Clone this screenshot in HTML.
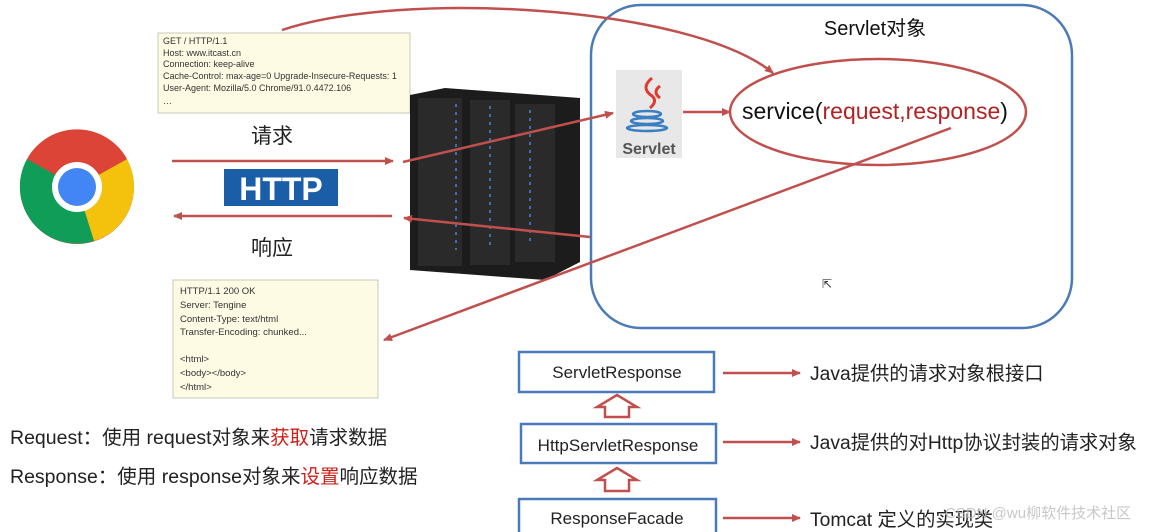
<!DOCTYPE html>
<html><head><meta charset="utf-8"><style>
html,body{margin:0;padding:0;background:#fff;width:1159px;height:532px;overflow:hidden}
svg{display:block}
text{font-family:"Liberation Sans","Noto Sans CJK SC",sans-serif}
</style></head><body>
<svg width="1159" height="532" viewBox="0 0 1159 532" xmlns="http://www.w3.org/2000/svg">
<defs>
<marker id="ah" markerWidth="10" markerHeight="10" refX="8" refY="5" orient="auto" markerUnits="userSpaceOnUse">
<path d="M0,1 L9,5 L0,9 z" fill="#c0504d"/></marker>
</defs>
<rect x="158" y="33" width="252" height="80" fill="#fdfbe3" stroke="#c8c8b8"/>
<g font-size="9" fill="#333">
<text x="163" y="44">GET / HTTP/1.1</text>
<text x="163" y="56">Host: www.itcast.cn</text>
<text x="163" y="67">Connection: keep-alive</text>
<text x="163" y="79">Cache-Control: max-age=0 Upgrade-Insecure-Requests: 1</text>
<text x="163" y="91">User-Agent: Mozilla/5.0 Chrome/91.0.4472.106</text>
<text x="163" y="104">…</text>
</g>
<circle cx="77" cy="187" r="57" fill="#db4437"/>
<path d="M77,187 L127,159 A57,57 0 0 1 94,241 z" fill="#f4c20d"/>
<path d="M77,187 L94,241 A57,57 0 0 1 27,159 z" fill="#0f9d58"/>
<path d="M77,187 L27,159 A57,57 0 0 1 127,159 z" fill="#db4437"/>
<circle cx="77" cy="187" r="25" fill="#fff"/>
<circle cx="77" cy="187" r="19" fill="#4285f4"/>
<text x="272" y="143" font-size="21" text-anchor="middle" fill="#222">请求</text>
<line x1="172" y1="161" x2="393" y2="161" stroke="#c0504d" stroke-width="2.5" marker-end="url(#ah)"/>
<rect x="224" y="169" width="114" height="37" fill="#1b5ea8"/>
<text x="281" y="200" font-size="32" font-weight="bold" fill="#fff" text-anchor="middle">HTTP</text>
<line x1="392" y1="216" x2="174" y2="216" stroke="#c0504d" stroke-width="2.5" marker-end="url(#ah)"/>
<text x="272" y="255" font-size="21" text-anchor="middle" fill="#222">响应</text>
<polygon points="410,95 445,88 580,98 580,262 545,280 410,270" fill="#1c1c1c"/>
<rect x="418" y="98" width="44" height="168" fill="#2a2a2a"/>
<rect x="470" y="100" width="40" height="165" fill="#2a2a2a"/>
<rect x="515" y="104" width="40" height="158" fill="#2a2a2a"/>
<g stroke="#3d6fae" stroke-width="2" stroke-dasharray="3,5">
<line x1="456" y1="104" x2="456" y2="250"/><line x1="490" y1="106" x2="490" y2="250"/><line x1="530" y1="110" x2="530" y2="245"/></g>
<rect x="591" y="5" width="481" height="323" rx="50" fill="none" stroke="#4a7ab8" stroke-width="2.5"/>
<text x="875" y="35" font-size="20" text-anchor="middle" fill="#111">Servlet对象</text>
<rect x="616" y="70" width="66" height="88" fill="#e8e8e8"/>
<path d="M652,78 q-12,10 0,18 q6,5 -2,12 M660,86 q-8,6 0,12" stroke="#e03a2e" stroke-width="3" fill="none"/>
<g stroke="#3a7fc1" stroke-width="2.5" fill="none"><ellipse cx="647" cy="114" rx="14" ry="3"/><ellipse cx="647" cy="121" rx="16" ry="3"/><ellipse cx="647" cy="128" rx="20" ry="3"/></g>
<text x="649" y="154" font-size="16" font-weight="bold" fill="#555" text-anchor="middle">Servlet</text>
<line x1="683" y1="112" x2="730" y2="112" stroke="#c0504d" stroke-width="2.5" marker-end="url(#ah)"/>
<ellipse cx="878" cy="112" rx="148" ry="53" fill="none" stroke="#c0504d" stroke-width="2.5"/>
<text x="742" y="119" font-size="23" fill="#111">service(<tspan fill="#b22222">request,response</tspan>)</text>
<path d="M282,30 C400,-10 690,5 773,73" fill="none" stroke="#c0504d" stroke-width="2.5" marker-end="url(#ah)"/>
<line x1="403" y1="162" x2="613" y2="113" stroke="#c0504d" stroke-width="2.5" marker-end="url(#ah)"/>
<line x1="590" y1="237" x2="404" y2="218" stroke="#c0504d" stroke-width="2.5" marker-end="url(#ah)"/>
<line x1="951" y1="128" x2="384" y2="340" stroke="#c0504d" stroke-width="2.5" marker-end="url(#ah)"/>
<text x="822" y="288" font-size="12" fill="#333">⇱</text>
<rect x="173" y="280" width="205" height="118" fill="#fdfbe3" stroke="#c8c8b8"/>
<g font-size="9.5" fill="#333">
<text x="180" y="294">HTTP/1.1 200 OK</text>
<text x="180" y="308">Server: Tengine</text>
<text x="180" y="322">Content-Type: text/html</text>
<text x="180" y="335">Transfer-Encoding: chunked...</text>
<text x="180" y="362">&lt;html&gt;</text>
<text x="180" y="376">&lt;body&gt;&lt;/body&gt;</text>
<text x="180" y="390">&lt;/html&gt;</text>
</g>
<text x="10" y="444" font-size="19.5" fill="#222">Request：使用 request对象来<tspan fill="#d0201a">获取</tspan>请求数据</text>
<text x="10" y="483" font-size="19.5" fill="#222">Response：使用 response对象来<tspan fill="#d0201a">设置</tspan>响应数据</text>
<g fill="#fff" stroke="#4a7ab8" stroke-width="2.5">
<rect x="519" y="352" width="195" height="40"/>
<rect x="521" y="424" width="195" height="39"/>
<rect x="519" y="499" width="197" height="40"/>
</g>
<g font-size="17" fill="#222" text-anchor="middle">
<text x="617" y="378">ServletResponse</text>
<text x="618" y="451">HttpServletResponse</text>
<text x="617" y="524">ResponseFacade</text>
</g>
<g fill="#fff" stroke="#c0504d" stroke-width="2.5">
<path d="M605,417 L605,407 L597,407 L617,395 L637,407 L629,407 L629,417 z"/>
<path d="M605,491 L605,480 L597,480 L617,468 L637,480 L629,480 L629,491 z"/>
</g>
<g stroke="#c0504d" stroke-width="2.5" marker-end="url(#ah)">
<line x1="723" y1="373" x2="800" y2="373"/>
<line x1="723" y1="442" x2="800" y2="442"/>
<line x1="723" y1="518" x2="800" y2="518"/>
</g>
<g font-size="19.3" fill="#222">
<text x="810" y="380">Java提供的请求对象根接口</text>
<text x="810" y="449">Java提供的对Http协议封装的请求对象</text>
<text x="810" y="526">Tomcat 定义的实现类</text>
</g>
<text x="945" y="518" font-size="15" fill="#bbb" opacity="0.8">CSDN @wu柳软件技术社区</text>
</svg>
</body></html>
